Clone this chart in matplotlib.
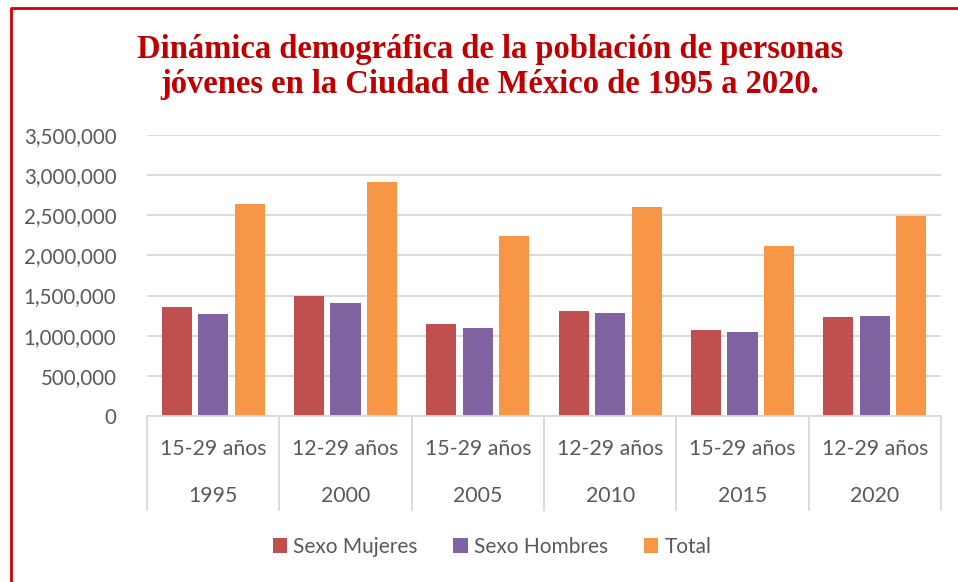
"""Bar chart: población joven en la Ciudad de México, 1995-2020."""

import matplotlib

matplotlib.use("Agg")
import matplotlib.pyplot as plt
import numpy as np
from matplotlib.lines import Line2D
from matplotlib.ticker import FuncFormatter

years = ["1995", "2000", "2005", "2010", "2015", "2020"]
age_ranges = ["15-29 años", "12-29 años", "15-29 años", "12-29 años", "15-29 años", "12-29 años"]
mujeres = [1353000, 1494000, 1146000, 1307000, 1071000, 1233000]
hombres = [1270000, 1407000, 1096000, 1282000, 1046000, 1245000]
total = [2640000, 2914000, 2240000, 2600000, 2117000, 2490000]

series = [
    ("Sexo Mujeres", mujeres, "#C0504D"),
    ("Sexo Hombres", hombres, "#8064A2"),
    ("Total", total, "#F79646"),
]

plt.rcParams["font.family"] = ["Lato", "DejaVu Sans"]
GRAY = "#595959"
GRID = "#d9d9d9"
W, H = 958, 582

fig = plt.figure(figsize=(9.58, 5.82), dpi=100)
# red frame: only the top and left edges are inside the picture
fig.lines.append(Line2D([10.5 / W, 10.5 / W, 1.0], [0.0, 1 - 8 / H, 1 - 8 / H],
                        transform=fig.transFigure, color="#D00000", lw=2.0))

ax = fig.add_axes([147 / W, 1 - 416 / H, (941 - 147) / W, (416 - 135) / H])

x = np.arange(len(years))
width = 0.227
step = 0.276
for i, (name, vals, color) in enumerate(series):
    ax.bar(x + (i - 1) * step, vals, width, color=color, label=name, zorder=2)

ax.set_xlim(-0.5, len(years) - 0.5)
ax.set_ylim(0, 3500000)
ax.set_yticks(np.arange(0, 3500001, 500000))
ax.yaxis.set_major_formatter(FuncFormatter(lambda v, _: f"{int(v):,}"))
ax.tick_params(axis="y", length=0, labelsize=14.8, labelcolor=GRAY, pad=22)
ax.grid(axis="y", color=GRID, lw=1.3, zorder=0)
ax.set_xticks([])
for side in ("top", "right", "left"):
    ax.spines[side].set_visible(False)
ax.spines["bottom"].set_color(GRID)
ax.spines["bottom"].set_linewidth(1.3)

# two-level category axis
trans = ax.get_xaxis_transform()
ax_h = 416 - 135
for b in np.arange(-0.5, len(years)):
    ax.plot([b, b], [0, -(510 - 416) / ax_h], transform=trans, color=GRID,
            lw=1.3, clip_on=False)
for xi, (age, yr) in enumerate(zip(age_ranges, years)):
    ax.text(xi, -(449 - 416) / ax_h, age, transform=trans, ha="center", va="center",
            fontsize=15.3, color=GRAY)
    ax.text(xi, -(496 - 416) / ax_h, yr, transform=trans, ha="center", va="center",
            fontsize=15.3, color=GRAY)

fig.legend(loc="center", bbox_to_anchor=(492 / W, 1 - 547 / H), ncol=3, frameon=False,
           fontsize=15, labelcolor=GRAY, handlelength=0.7, handleheight=0.7,
           handletextpad=0.3, columnspacing=1.7)

fig.text(490 / W, 1 - 67 / H,
         "Dinámica demográfica de la población de personas\n"
         "jóvenes en la Ciudad de México de 1995 a 2020.",
         ha="center", va="center", family="Liberation Serif", weight="bold",
         fontsize=23.5, color="#C00000", linespacing=1.2)

fig.savefig("out.png", dpi=100)
